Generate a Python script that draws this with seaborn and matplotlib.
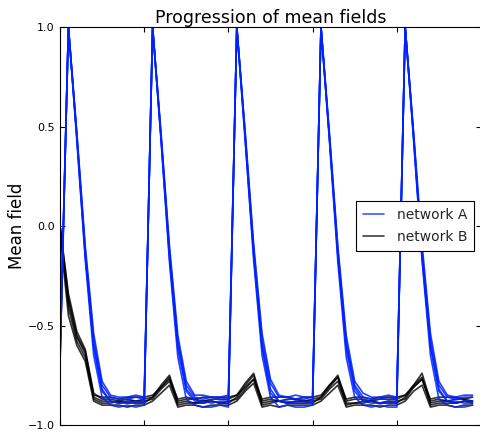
import matplotlib
matplotlib.use("Agg")
import numpy as np
import pandas as pd
import matplotlib.pyplot as plt
from matplotlib.lines import Line2D
import seaborn as sns

steps = list(range(50))

# network A traces (blue)
net_a_1 = [-0.66,
           1.00, 0.46, -0.12, -0.57, -0.80, -0.86, -0.87, -0.87, -0.86, -0.87,
           1.00, 0.45, -0.12, -0.58, -0.80, -0.86, -0.87, -0.86, -0.87, -0.87,
           1.00, 0.46, -0.11, -0.57, -0.79, -0.86, -0.86, -0.87, -0.87, -0.86,
           1.00, 0.45, -0.12, -0.58, -0.80, -0.86, -0.87, -0.87, -0.86, -0.87,
           1.00, 0.46, -0.12, -0.57, -0.80, -0.86, -0.87, -0.86, -0.86]
net_a_2 = [-0.68,
           1.00, 0.44, -0.15, -0.61, -0.83, -0.88, -0.89, -0.88, -0.89, -0.88,
           1.00, 0.44, -0.16, -0.62, -0.83, -0.88, -0.88, -0.89, -0.88, -0.88,
           1.00, 0.43, -0.15, -0.61, -0.84, -0.88, -0.89, -0.88, -0.88, -0.89,
           1.00, 0.44, -0.15, -0.62, -0.83, -0.88, -0.88, -0.89, -0.89, -0.88,
           1.00, 0.44, -0.16, -0.61, -0.83, -0.88, -0.89, -0.88, -0.88]
net_a_3 = [-0.64,
           1.00, 0.47, -0.10, -0.54, -0.78, -0.85, -0.86, -0.86, -0.85, -0.86,
           1.00, 0.47, -0.10, -0.55, -0.78, -0.85, -0.85, -0.86, -0.86, -0.85,
           1.00, 0.47, -0.09, -0.54, -0.77, -0.85, -0.86, -0.85, -0.86, -0.86,
           1.00, 0.47, -0.10, -0.55, -0.78, -0.84, -0.86, -0.86, -0.85, -0.86,
           1.00, 0.47, -0.09, -0.54, -0.78, -0.85, -0.86, -0.85, -0.85]
net_a_4 = [-0.70,
           1.00, 0.43, -0.17, -0.65, -0.86, -0.90, -0.91, -0.90, -0.91, -0.90,
           1.00, 0.43, -0.18, -0.66, -0.87, -0.90, -0.91, -0.91, -0.90, -0.91,
           1.00, 0.43, -0.17, -0.65, -0.86, -0.91, -0.90, -0.91, -0.91, -0.90,
           1.00, 0.43, -0.18, -0.66, -0.86, -0.90, -0.91, -0.90, -0.91, -0.91,
           1.00, 0.43, -0.17, -0.65, -0.87, -0.90, -0.91, -0.91, -0.90]
net_a_5 = [-0.67,
           1.00, 0.45, -0.14, -0.60, -0.82, -0.88, -0.89, -0.89, -0.88, -0.89,
           1.00, 0.45, -0.14, -0.59, -0.82, -0.87, -0.89, -0.88, -0.89, -0.89,
           1.00, 0.45, -0.13, -0.60, -0.82, -0.88, -0.88, -0.89, -0.89, -0.88,
           1.00, 0.45, -0.14, -0.60, -0.81, -0.88, -0.89, -0.89, -0.88, -0.89,
           1.00, 0.45, -0.14, -0.60, -0.82, -0.88, -0.88, -0.89, -0.89]

# network B traces (black)
net_b_1 = [0.00, -0.34, -0.53, -0.62, -0.84, -0.87, -0.87, -0.88, -0.87, -0.88,
           -0.87, -0.86, -0.80, -0.75, -0.88, -0.87, -0.87, -0.88, -0.87, -0.87,
           -0.87, -0.85, -0.79, -0.74, -0.88, -0.87, -0.88, -0.87, -0.87, -0.88,
           -0.87, -0.86, -0.80, -0.75, -0.88, -0.87, -0.87, -0.88, -0.87, -0.87,
           -0.87, -0.85, -0.80, -0.74, -0.88, -0.87, -0.88, -0.87, -0.87, -0.88]
net_b_2 = [-0.02, -0.38, -0.56, -0.64, -0.86, -0.88, -0.88, -0.89, -0.88, -0.88,
           -0.88, -0.87, -0.82, -0.78, -0.89, -0.88, -0.89, -0.88, -0.88, -0.89,
           -0.88, -0.87, -0.82, -0.77, -0.89, -0.88, -0.88, -0.89, -0.88, -0.88,
           -0.88, -0.87, -0.82, -0.78, -0.89, -0.89, -0.88, -0.88, -0.89, -0.88,
           -0.88, -0.87, -0.81, -0.77, -0.89, -0.88, -0.88, -0.89, -0.88, -0.88]
net_b_3 = [0.01, -0.41, -0.58, -0.66, -0.87, -0.89, -0.89, -0.88, -0.89, -0.89,
           -0.89, -0.86, -0.81, -0.76, -0.90, -0.89, -0.89, -0.89, -0.88, -0.89,
           -0.89, -0.86, -0.80, -0.75, -0.90, -0.89, -0.88, -0.89, -0.89, -0.89,
           -0.89, -0.86, -0.81, -0.76, -0.90, -0.89, -0.89, -0.88, -0.89, -0.89,
           -0.89, -0.86, -0.80, -0.76, -0.90, -0.89, -0.89, -0.89, -0.88, -0.89]
net_b_4 = [-0.04, -0.45, -0.60, -0.68, -0.88, -0.90, -0.90, -0.90, -0.91, -0.90,
           -0.90, -0.88, -0.84, -0.80, -0.91, -0.90, -0.90, -0.91, -0.90, -0.90,
           -0.90, -0.88, -0.83, -0.79, -0.91, -0.90, -0.91, -0.90, -0.90, -0.90,
           -0.90, -0.88, -0.84, -0.80, -0.91, -0.90, -0.90, -0.90, -0.91, -0.90,
           -0.90, -0.88, -0.83, -0.80, -0.91, -0.90, -0.90, -0.91, -0.90, -0.90]
net_b_5 = [0.00, -0.36, -0.55, -0.63, -0.85, -0.86, -0.86, -0.87, -0.86, -0.86,
           -0.86, -0.85, -0.81, -0.77, -0.87, -0.86, -0.87, -0.86, -0.86, -0.86,
           -0.86, -0.85, -0.81, -0.77, -0.87, -0.86, -0.86, -0.86, -0.87, -0.86,
           -0.86, -0.85, -0.80, -0.76, -0.87, -0.86, -0.86, -0.87, -0.86, -0.86,
           -0.86, -0.85, -0.81, -0.77, -0.87, -0.86, -0.86, -0.86, -0.87, -0.86]

traces_a = [net_a_1, net_a_2, net_a_3, net_a_4, net_a_5]
traces_b = [net_b_1, net_b_2, net_b_3, net_b_4, net_b_5]
labels = ["network A", "network B"]
yticks = [-1.0, -0.5, 0.0, 0.5, 1.0]
xticks = [0, 10, 20, 30, 40, 50]

rows = []
for name, traces in zip(labels, [traces_a, traces_b]):
    for i, tr in enumerate(traces):
        for s, v in zip(steps, tr):
            rows.append({"step": s, "value": v, "network": name, "trace": i})
df = pd.DataFrame(rows)

sns.set_theme(style="ticks")
plt.rcParams["font.family"] = ["DejaVu Sans"]
plt.rcParams["xtick.direction"] = "in"
plt.rcParams["ytick.direction"] = "in"

fig = plt.figure(figsize=(4.8, 4.32), dpi=100)
ax = fig.add_axes([0.125, 0.0162, 0.877, 0.9213])

# black first so the blue sits on top, like the original
sns.lineplot(data=df[df.network == "network B"], x="step", y="value", units="trace",
             estimator=None, color="black", lw=1.2, alpha=0.8, ax=ax, legend=False)
sns.lineplot(data=df[df.network == "network A"], x="step", y="value", units="trace",
             estimator=None, color="#0022ff", lw=1.2, alpha=0.85, ax=ax, legend=False)

ax.set_xlim(0, 50)
ax.set_ylim(-1, 1)
ax.set_xticks(xticks)
ax.set_yticks(yticks)
ax.set_yticklabels([f"{t:.1f}".replace("-", "\u2212") for t in yticks])
ax.tick_params(axis="both", which="both", direction="in", length=3.5, width=0.8,
               top=True, right=True, labelbottom=False, labelsize=8, colors="black",
               pad=4)
for sp in ax.spines.values():
    sp.set_color("black")
    sp.set_linewidth(0.8)

ax.set_xlabel("")
ax.set_ylabel("Mean field", fontsize=12, labelpad=1, color="black")
ax.set_title("Progression of mean fields", fontsize=12.5, pad=3, color="black")

handles = [Line2D([], [], color="#0022ff", lw=1.2, alpha=0.75),
           Line2D([], [], color="black", lw=1.2, alpha=0.75)]
leg = ax.legend(handles, labels, loc="center right", fontsize=10, frameon=True,
                fancybox=False, framealpha=1, edgecolor="black", handlelength=1.5,
                handletextpad=0.9, borderpad=0.5, labelspacing=0.6,
                borderaxespad=0.5)
leg.get_frame().set_linewidth(0.8)

fig.savefig("out.png", dpi=100)
